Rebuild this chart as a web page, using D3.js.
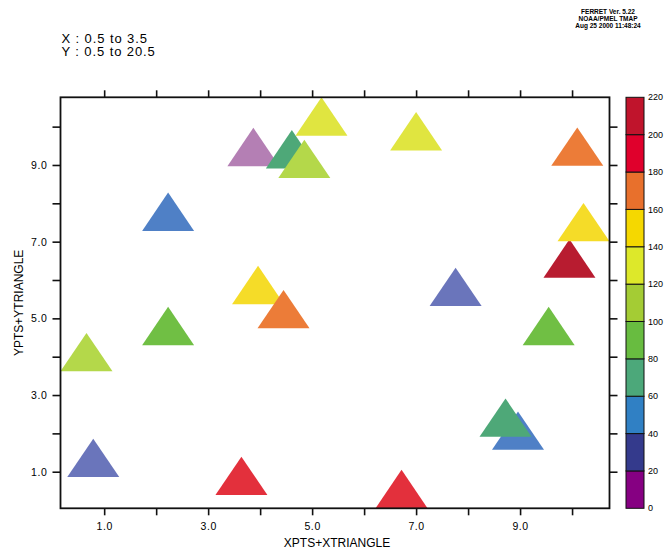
<!DOCTYPE html>
<html>
<head>
<meta charset="utf-8">
<script src="https://cdn.jsdelivr.net/npm/d3@7"></script>
<style>
  html, body { margin: 0; padding: 0; background: #fff; }
  svg { display: block; }
  text { font-family: "Liberation Sans", Arial, sans-serif; fill: #000; }
</style>
</head>
<body>
<svg id="chart" width="665" height="557"></svg>
<script>
// ---------- data ----------
const xTicks = [1, 2, 3, 4, 5, 6, 7, 8, 9, 10];
const yTicks = [1, 2, 3, 4, 5, 6, 7, 8, 9, 10];
const colorLevels = [0, 20, 40, 60, 80, 100, 120, 140, 160, 180, 200, 220];
const barColors = ["#860082", "#343a8c", "#3080c4", "#4ca87a", "#68bc40", "#a4cc34",
                   "#dde82a", "#f5d800", "#e8702c", "#e0002c", "#c0142c"];
const fillColors = ["#b47fb4", "#6a75bb", "#4f80c6", "#4ea878", "#70bf44", "#b4d84a",
                    "#e0e540", "#f5dc28", "#ec7c38", "#e3303c", "#b81c30"];
const xtriangle = [-0.5, 0, 0.5];
const ytriangle = [-0.5, 0.5, -0.5];
const xpts = [0.79, 3.64, 6.72, 8.96, 8.72, 0.66, 2.23, 9.55, 3.96, 4.45,
              7.76, 9.95, 10.22, 2.23, 3.87, 4.61, 5.18, 4.85, 7.00, 10.10];
const ypts = [1.36, 0.89, 0.55, 2.07, 2.41, 4.12, 4.80, 4.80, 5.87, 5.24,
              5.82, 6.56, 7.51, 7.78, 9.47, 9.41, 10.265, 9.16, 9.88, 9.48];
const values = [30, 190, 190, 50, 70, 110, 90, 90, 150, 170,
                30, 210, 150, 50, 10, 70, 130, 110, 130, 170];
const titleLines = ["X : 0.5 to 3.5", "Y : 0.5 to 20.5"];
const headerLines = ["FERRET Ver. 5.22", "NOAA/PMEL TMAP", "Aug 25 2000 11:48:24"];

// ---------- layout ----------
const L = 60.5, R = 609.5, T = 97.3, B = 508.3;
const svg = d3.select("#chart");

const x = d3.scaleLinear().domain([0.16, 10.72]).range([L, R]);
const y = d3.scaleLinear().domain([0.046, 10.765]).range([B, T]);
const fillScale = d3.scaleThreshold().domain(colorLevels.slice(1, -1)).range(fillColors);
const barScale = d3.scaleThreshold().domain(colorLevels.slice(1, -1)).range(barColors);

// clip
svg.append("clipPath").attr("id", "plotclip")
  .append("rect").attr("x", L).attr("y", T).attr("width", R - L).attr("height", B - T);

// triangles
const tris = xpts.map((cx, i) => ({ cx, cy: ypts[i], v: values[i] }));
const line = d3.line();
svg.append("g").attr("clip-path", "url(#plotclip)")
  .selectAll("path").data(tris).join("path")
  .attr("d", d => line(xtriangle.map((dx, k) => [x(d.cx + dx), y(d.cy + ytriangle[k])])) + "Z")
  .attr("fill", d => fillScale(d.v));

// axes
const fmt = d => (d % 2 === 1 ? d.toFixed(1) : "");
const axB = svg.append("g").attr("transform", `translate(0,${B})`)
  .call(d3.axisBottom(x).tickValues(xTicks).tickFormat(fmt).tickSize(7).tickSizeOuter(0).tickPadding(7));
const axT = svg.append("g").attr("transform", `translate(0,${T})`)
  .call(d3.axisTop(x).tickValues(xTicks).tickFormat("").tickSize(7).tickSizeOuter(0));
const axL = svg.append("g").attr("transform", `translate(${L},0)`)
  .call(d3.axisLeft(y).tickValues(yTicks).tickFormat(fmt).tickSize(8).tickSizeOuter(0).tickPadding(5));
const axR = svg.append("g").attr("transform", `translate(${R},0)`)
  .call(d3.axisRight(y).tickValues(yTicks).tickFormat("").tickSize(8).tickSizeOuter(0));
[axB, axT, axL, axR].forEach(g => {
  g.select(".domain").remove();
  g.selectAll(".tick line").attr("stroke", "#111").attr("stroke-width", 1.6);
  g.selectAll("text").style("font-family", "'Liberation Sans', Arial, sans-serif")
    .style("font-size", "10.5px").attr("fill", "#000").style("letter-spacing", "0.6px");
});

// frame
svg.append("rect").attr("x", L).attr("y", T).attr("width", R - L).attr("height", B - T)
  .attr("fill", "none").attr("stroke", "#111").attr("stroke-width", 1.8);

// axis titles
svg.append("text").attr("x", (L + R) / 2 + 2).attr("y", 547).attr("text-anchor", "middle")
  .style("font-size", "12px").text("XPTS+XTRIANGLE");
svg.append("text").attr("transform", `translate(23,${(T + B) / 2}) rotate(-90)`)
  .attr("text-anchor", "middle").style("font-size", "12px").text("YPTS+YTRIANGLE");

// title lines
svg.selectAll("text.title").data(titleLines).join("text").attr("class", "title")
  .attr("x", 61.5).attr("y", (d, i) => 42.5 + i * 13.5)
  .style("font-size", "13px").style("letter-spacing", "0.9px").text(d => d);

// header
svg.selectAll("text.hdr").data(headerLines).join("text").attr("class", "hdr")
  .attr("x", 608).attr("y", (d, i) => 14 + i * 7).attr("text-anchor", "middle")
  .style("font-size", "6.5px").style("font-weight", "bold").text(d => d);

// colorbar
const cbL = 626, cbW = 18;
const cy = d3.scaleLinear().domain([0, 220]).range([B, T]);
const bands = d3.range(colorLevels.length - 1).map(i => ({ lo: colorLevels[i], hi: colorLevels[i + 1] }));
svg.append("g").selectAll("rect").data(bands).join("rect")
  .attr("x", cbL).attr("width", cbW)
  .attr("y", d => cy(d.hi)).attr("height", d => cy(d.lo) - cy(d.hi))
  .attr("fill", d => barScale(d.lo + 1)).attr("stroke", "#111").attr("stroke-width", 1);
svg.append("g").selectAll("text").data(colorLevels).join("text")
  .attr("x", cbL + cbW + 4).attr("y", d => cy(d)).attr("dy", "0.35em")
  .style("font-size", "9px").text(d => d);
</script>
</body>
</html>
